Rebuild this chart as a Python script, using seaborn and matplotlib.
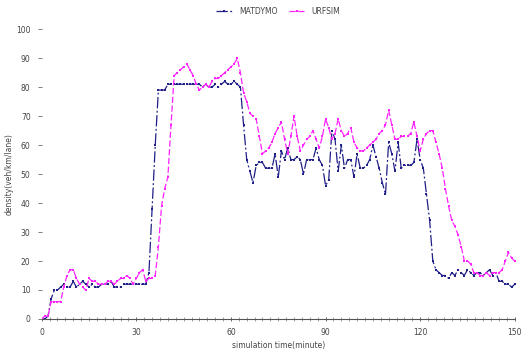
import numpy as np
import pandas as pd
import matplotlib
matplotlib.use("Agg")
import matplotlib.pyplot as plt
import seaborn as sns
from matplotlib.ticker import MultipleLocator

# simulation time in minutes (one sample per minute)
minutes = np.arange(0, 151)

matdymo = [
    0, 0, 1, 7, 10, 10, 11, 12, 11, 11,
    13, 11, 12, 13, 12, 11, 12, 11, 11, 12,
    12, 12, 13, 11, 11, 11, 12, 12, 12, 12,
    12, 12, 12, 12, 16, 38, 60, 79, 79, 79,
    81, 81, 81, 81, 81, 81, 81, 81, 81, 81,
    81, 80, 81, 80, 80, 81, 80, 81, 82, 81,
    81, 82, 81, 80, 67, 55, 51, 47, 53, 54,
    54, 52, 52, 52, 57, 49, 58, 55, 59, 55,
    55, 56, 55, 50, 55, 55, 55, 59, 55, 53,
    46, 48, 65, 62, 51, 60, 52, 55, 55, 49,
    57, 52, 52, 53, 55, 60, 56, 52, 47, 43,
    61, 57, 51, 61, 52, 53, 53, 53, 54, 62,
    55, 52, 43, 34, 20, 17, 16, 15, 15, 14,
    16, 15, 17, 16, 15, 17, 16, 15, 16, 16,
    15, 16, 17, 15, 16, 13, 13, 12, 12, 11,
    12,
]

urfsim = [
    0, 1, 1, 6, 6, 6, 6, 11, 15, 17,
    17, 14, 12, 11, 10, 14, 13, 13, 12, 12,
    12, 13, 13, 12, 13, 14, 14, 15, 14, 12,
    14, 16, 17, 13, 14, 14, 15, 25, 39, 45,
    49, 67, 84, 85, 86, 87, 88, 86, 84, 81,
    79, 80, 81, 80, 82, 83, 83, 84, 85, 86,
    87, 88, 90, 85, 78, 75, 71, 70, 69, 63,
    57, 58, 59, 61, 64, 66, 68, 62, 57, 63,
    70, 63, 58, 60, 62, 63, 65, 62, 59, 63,
    69, 66, 62, 64, 69, 65, 63, 64, 66, 61,
    59, 58, 58, 59, 60, 61, 62, 64, 65, 67,
    72, 67, 62, 62, 63, 63, 63, 64, 68, 63,
    58, 62, 64, 65, 65, 61, 57, 52, 45, 39,
    34, 32, 29, 25, 20, 20, 19, 16, 16, 15,
    15, 16, 15, 16, 16, 16, 17, 20, 23, 21,
    20,
]

sns.set_style("white")
plt.rcParams['font.family'] = ['DejaVu Sans']

fig = plt.figure(figsize=(5.28, 3.56), dpi=100)
ax = fig.add_axes([0.079, 0.104, 0.896, 0.814])

sns.lineplot(x=minutes, y=matdymo, ax=ax, color='#1f1f87', linewidth=0.9,
             linestyle=(0, (9, 2, 1.5, 2)), marker='s', markersize=2,
             markeredgewidth=0, label='MATDYMO')
sns.lineplot(x=minutes, y=urfsim, ax=ax, color='#ff22ff', linewidth=0.9,
             linestyle=(0, (5, 2)), marker='s', markersize=2,
             markeredgewidth=0, label='URFSIM')

ax.set_xlim(0, 150)
ax.set_ylim(0, 100)
ax.xaxis.set_major_locator(MultipleLocator(30))
ax.xaxis.set_minor_locator(MultipleLocator(2.5))
ax.yaxis.set_major_locator(MultipleLocator(10))

for s in ['top', 'right', 'left']:
    ax.spines[s].set_visible(False)
ax.spines['bottom'].set_color('#555555')
ax.spines['bottom'].set_linewidth(0.8)

ax.tick_params(axis='y', which='major', left=True, length=3, width=0.6,
               color='#666666', labelsize=5.5, labelcolor='#444444', pad=5)
ax.tick_params(axis='x', which='major', bottom=True, length=3, width=0.6,
               direction='inout', color='#555555', labelsize=5.5,
               labelcolor='#444444', pad=5)
ax.tick_params(axis='x', which='minor', bottom=True, length=2.5, width=0.5,
               direction='inout', color='#777777')

ax.set_xlabel('simulation time(minute)', fontsize=5.5, color='#444444', labelpad=3)
ax.set_ylabel('density(veh/km/lane)', fontsize=5.5, color='#444444', labelpad=2)

ax.legend(loc='lower center', bbox_to_anchor=(0.5, 1.03), ncol=2, frameon=False,
          fontsize=5.5, handlelength=2.2, columnspacing=1.5,
          labelcolor='#444444', borderaxespad=0.2)

fig.savefig('out.png', dpi=100)
